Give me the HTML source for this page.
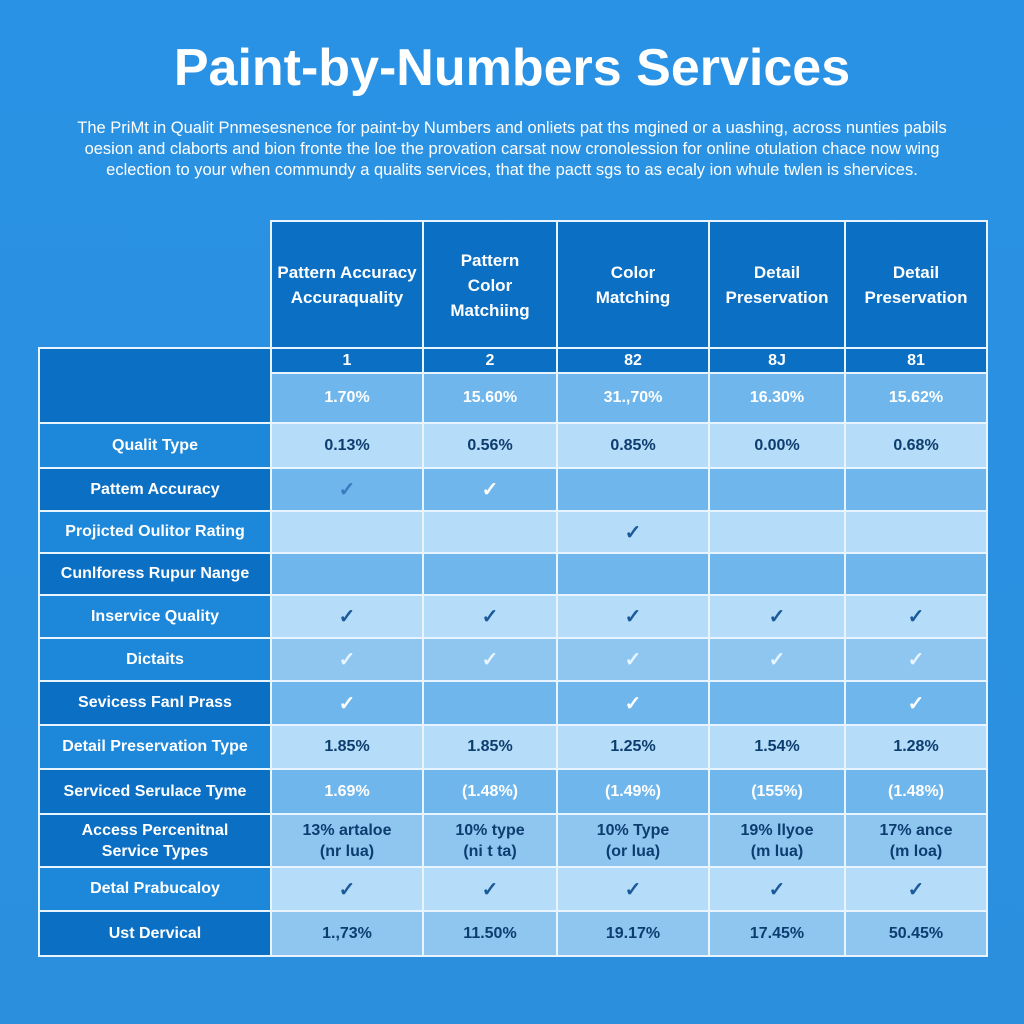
<!DOCTYPE html>
<html><head><meta charset="utf-8"><style>
body{margin:0;width:1024px;height:1024px;background:linear-gradient(180deg,#2a92e4,#2b8fde);font-family:"Liberation Sans",sans-serif;position:relative;overflow:hidden;color:#fff}
h1{position:absolute;top:38px;left:0;width:1024px;text-align:center;margin:0;font-size:52px;font-weight:bold;letter-spacing:0px}
.sub{position:absolute;top:118px;left:40px;width:944px;text-align:center;font-size:16.5px;line-height:21px}
table{position:absolute;border-collapse:collapse;table-layout:fixed}
td{border:2.5px solid #e8f4ff;text-align:center;padding:0;font-size:16px;font-weight:bold}
.hd td{background:#0b6fc4;font-weight:bold;font-size:17px;line-height:25px}
.D{background:#0b6fc4}.M{background:#1d88da}.L{background:#b5dcf8;color:#0d3d6e}.C{background:#6fb6ec}.CL{background:#8ec6f0;color:#0d3d6e}
.ck{font-size:20px}
.L .ck,.CL .ck{color:#1a5a9a}
</style></head><body>
<h1>Paint-by-Numbers Services</h1>
<div class="sub">The PriMt in Qualit Pnmesesnence for paint-by Numbers and onliets pat ths mgined or a uashing, across nunties pabils<br>oesion and claborts and bion fronte the loe the provation carsat now cronolession for online otulation chace now wing<br>eclection to your when commundy a qualits services, that the pactt sgs to as ecaly ion whule twlen is shervices.</div>
<table class="hd" style="left:270px;top:220px;width:716px">
<colgroup><col style="width:152px"><col style="width:134px"><col style="width:152px"><col style="width:136px"><col style="width:142px"></colgroup>
<tr style="height:128px"><td>Pattern Accuracy<br>Accuraquality</td><td>Pattern<br>Color<br>Matchiing</td><td>Color<br>Matching</td><td>Detail<br>Preservation</td><td>Detail<br>Preservation</td></tr></table>
<table style="left:38px;top:347px;width:948px">
<colgroup><col style="width:232px"><col style="width:152px"><col style="width:134px"><col style="width:152px"><col style="width:136px"><col style="width:142px"></colgroup>
<tr style="height:25px"><td class="D" rowspan="2"></td><td class="D">1</td><td class="D">2</td><td class="D">82</td><td class="D">8J</td><td class="D">81</td></tr>
<tr style="height:50px;font-size:17px"><td class="C">1.70%</td><td class="C">15.60%</td><td class="C">31.,70%</td><td class="C">16.30%</td><td class="C">15.62%</td></tr>
<tr style="height:45px"><td class="M">Qualit Type</td><td class="L">0.13%</td><td class="L">0.56%</td><td class="L">0.85%</td><td class="L">0.00%</td><td class="L">0.68%</td></tr>
<tr style="height:43px"><td class="D">Pattem Accuracy</td><td class="C"><span class="ck" style="color:#3a7ac0">✓</span></td><td class="C"><span class="ck">✓</span></td><td class="C"></td><td class="C"></td><td class="C"></td></tr>
<tr style="height:42px"><td class="M">Projicted Oulitor Rating</td><td class="L"></td><td class="L"></td><td class="L"><span class="ck">✓</span></td><td class="L"></td><td class="L"></td></tr>
<tr style="height:42px"><td class="D">Cunlforess Rupur Nange</td><td class="C"></td><td class="C"></td><td class="C"></td><td class="C"></td><td class="C"></td></tr>
<tr style="height:43px"><td class="M">Inservice Quality</td><td class="L"><span class="ck">✓</span></td><td class="L"><span class="ck">✓</span></td><td class="L"><span class="ck">✓</span></td><td class="L"><span class="ck">✓</span></td><td class="L"><span class="ck">✓</span></td></tr>
<tr style="height:43px"><td class="M">Dictaits</td><td class="CL"><span class="ck" style="color:#e8f4ff">✓</span></td><td class="CL"><span class="ck" style="color:#e8f4ff">✓</span></td><td class="CL"><span class="ck" style="color:#e8f4ff">✓</span></td><td class="CL"><span class="ck" style="color:#e8f4ff">✓</span></td><td class="CL"><span class="ck" style="color:#e8f4ff">✓</span></td></tr>
<tr style="height:44px"><td class="D">Sevicess Fanl Prass</td><td class="C"><span class="ck">✓</span></td><td class="C"></td><td class="C"><span class="ck">✓</span></td><td class="C"></td><td class="C"><span class="ck">✓</span></td></tr>
<tr style="height:44px"><td class="M">Detail Preservation Type</td><td class="L">1.85%</td><td class="L">1.85%</td><td class="L">1.25%</td><td class="L">1.54%</td><td class="L">1.28%</td></tr>
<tr style="height:45px;font-size:17px"><td class="D">Serviced Serulace Tyme</td><td class="C">1.69%</td><td class="C">(1.48%)</td><td class="C">(1.49%)</td><td class="C">(155%)</td><td class="C">(1.48%)</td></tr>
<tr style="height:53px;line-height:21px"><td class="D">Access Percenitnal<br>Service Types</td><td class="CL">13% artaloe<br>(nr lua)</td><td class="CL">10% type<br>(ni t ta)</td><td class="CL">10% Type<br>(or lua)</td><td class="CL">19% llyoe<br>(m lua)</td><td class="CL">17% ance<br>(m loa)</td></tr>
<tr style="height:44px"><td class="M">Detal Prabucaloy</td><td class="L"><span class="ck">✓</span></td><td class="L"><span class="ck">✓</span></td><td class="L"><span class="ck">✓</span></td><td class="L"><span class="ck">✓</span></td><td class="L"><span class="ck">✓</span></td></tr>
<tr style="height:45px;font-weight:bold"><td class="D">Ust Dervical</td><td class="CL">1.,73%</td><td class="CL">11.50%</td><td class="CL">19.17%</td><td class="CL">17.45%</td><td class="CL">50.45%</td></tr>
</table>
</body></html>
